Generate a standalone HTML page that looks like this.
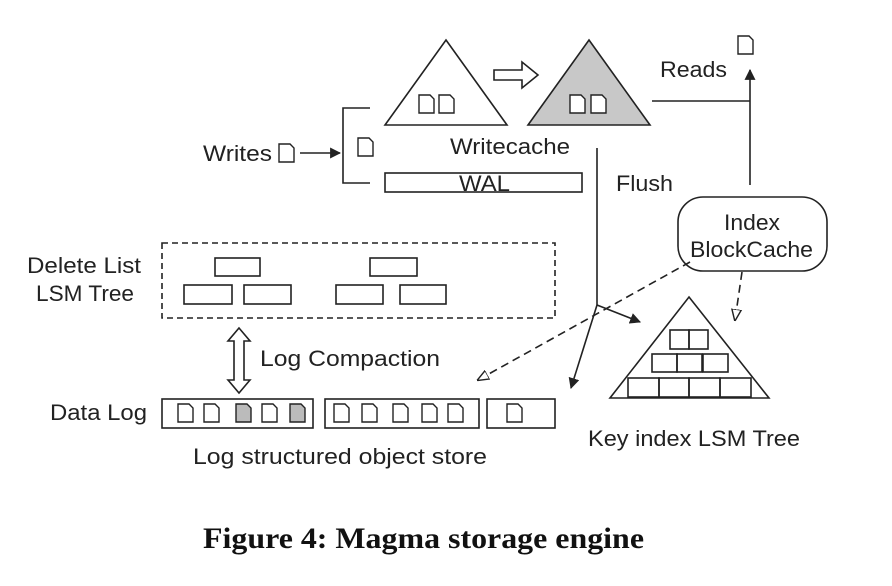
<!DOCTYPE html>
<html><head><meta charset="utf-8"><style>
body{margin:0;background:#fff}
svg{display:block}
text{font-family:"Liberation Sans",sans-serif;fill:#222}
</style></head><body>
<svg width="892" height="586" viewBox="0 0 892 586" xmlns="http://www.w3.org/2000/svg">
<defs>
<marker id="a" viewBox="0 0 10 10" refX="9" refY="5" markerWidth="11" markerHeight="11" orient="auto" markerUnits="userSpaceOnUse"><path d="M0,0L10,5L0,10z" fill="#222"/></marker>
<marker id="h" viewBox="0 0 10 10" refX="9" refY="5" markerWidth="12" markerHeight="12" orient="auto" markerUnits="userSpaceOnUse"><path d="M0,1L10,5L0,9z" fill="#fff" stroke="#222" stroke-width="1.2"/></marker>
<g id="d"><path d="M0,0h11l4,4v14h-15z" fill="#fff" stroke="#222" stroke-width="1.4"/></g>
<g id="dg"><path d="M0,0h11l4,4v14h-15z" fill="#bbb" stroke="#222" stroke-width="1.4"/></g>
</defs>
<g stroke="#222" stroke-width="1.6" fill="none">
<path d="M446,40L507,125H385Z" fill="#fff"/>
<path d="M589,40L650,125H528Z" fill="#c8c8c8"/>
<path d="M494,70h28v-8l16,13l-16,13v-8h-28z" fill="#fff"/>
<path d="M652,101H750"/>
<path d="M750,185V70" marker-end="url(#a)"/>
<path d="M370,108H343V183H370"/>
<path d="M300,153H340" marker-end="url(#a)"/>
<rect x="385" y="173" width="197" height="19" fill="#fff"/>
<path d="M597,148V305"/>
<path d="M597,305L640,322" marker-end="url(#a)"/>
<path d="M597,305L571,388" marker-end="url(#a)"/>
<rect x="678" y="197" width="149" height="74" rx="25" fill="#fff"/>
<rect x="162" y="243" width="393" height="75" stroke-dasharray="6,4"/>
<rect x="215" y="258" width="45" height="18"/>
<rect x="184" y="285" width="48" height="19"/>
<rect x="244" y="285" width="47" height="19"/>
<rect x="370" y="258" width="47" height="18"/>
<rect x="336" y="285" width="47" height="19"/>
<rect x="400" y="285" width="46" height="19"/>
<path d="M239,328l11,13h-6v39h6l-11,13l-11,-13h6v-39h-6z" fill="#fff"/>
<rect x="162" y="399" width="151" height="29"/>
<rect x="325" y="399" width="154" height="29"/>
<rect x="487" y="399" width="68" height="29"/>
<path d="M690,262L478,380" stroke-dasharray="8,5" marker-end="url(#h)"/>
<path d="M742,272L735,320" stroke-dasharray="8,5" marker-end="url(#h)"/>
<path d="M689,297L769,398H610Z" fill="#fff"/>
<rect x="670" y="330" width="19" height="19"/><rect x="689" y="330" width="19" height="19"/>
<rect x="652" y="354" width="25" height="18"/><rect x="677" y="354" width="25" height="18"/><rect x="703" y="354" width="25" height="18"/>
<rect x="628" y="378" width="31" height="19"/><rect x="659" y="378" width="30" height="19"/><rect x="689" y="378" width="31" height="19"/><rect x="720" y="378" width="31" height="19"/>
</g>
<use href="#d" x="419" y="95"/><use href="#d" x="439" y="95"/>
<use href="#d" x="570" y="95"/><use href="#d" x="591" y="95"/>
<use href="#d" x="738" y="36"/>
<use href="#d" x="279" y="144"/>
<use href="#d" x="358" y="138"/>
<use href="#d" x="178" y="404"/><use href="#d" x="204" y="404"/><use href="#dg" x="236" y="404"/><use href="#d" x="262" y="404"/><use href="#dg" x="290" y="404"/>
<use href="#d" x="334" y="404"/><use href="#d" x="362" y="404"/><use href="#d" x="393" y="404"/><use href="#d" x="422" y="404"/><use href="#d" x="448" y="404"/>
<use href="#d" x="507" y="404"/>
<g font-size="22" lengthAdjust="spacingAndGlyphs">
<text x="660" y="77" textLength="67" lengthAdjust="spacingAndGlyphs">Reads</text>
<text x="203" y="161" textLength="69" lengthAdjust="spacingAndGlyphs">Writes</text>
<text x="450" y="154" textLength="120" lengthAdjust="spacingAndGlyphs">Writecache</text>
<text x="459" y="191" textLength="51" lengthAdjust="spacingAndGlyphs">WAL</text>
<text x="616" y="191" textLength="57" lengthAdjust="spacingAndGlyphs">Flush</text>
<text x="724" y="230" textLength="56" lengthAdjust="spacingAndGlyphs">Index</text>
<text x="690" y="257" textLength="123" lengthAdjust="spacingAndGlyphs">BlockCache</text>
<text x="27" y="273" textLength="114" lengthAdjust="spacingAndGlyphs">Delete List</text>
<text x="36" y="301" textLength="98" lengthAdjust="spacingAndGlyphs">LSM Tree</text>
<text x="260" y="366" textLength="180" lengthAdjust="spacingAndGlyphs">Log Compaction</text>
<text x="50" y="420" textLength="97" lengthAdjust="spacingAndGlyphs">Data Log</text>
<text x="193" y="464" textLength="294" lengthAdjust="spacingAndGlyphs">Log structured object store</text>
<text x="588" y="446" textLength="212" lengthAdjust="spacingAndGlyphs">Key index LSM Tree</text>
</g>
<text x="203" y="548" textLength="441" lengthAdjust="spacingAndGlyphs" style="font-family:'Liberation Serif',serif;font-weight:bold;font-size:30px;fill:#111">Figure 4: Magma storage engine</text>
</svg>
</body></html>
